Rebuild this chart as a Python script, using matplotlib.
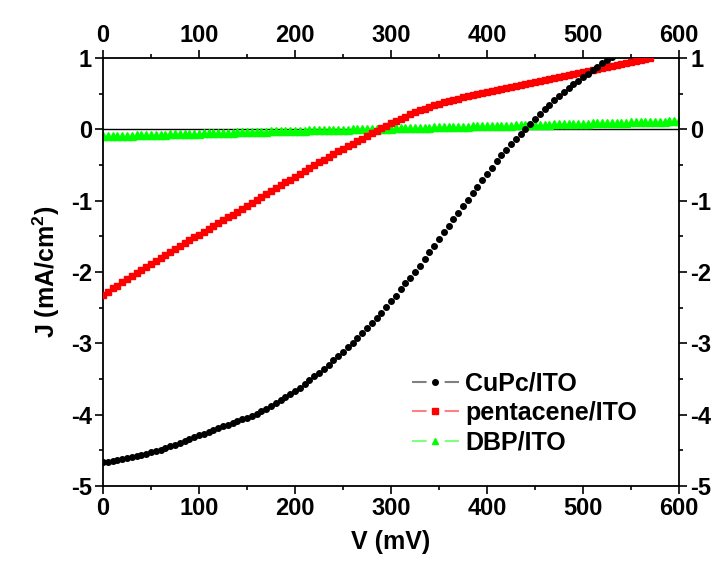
import numpy as np
import matplotlib
matplotlib.use('Agg')
import matplotlib.pyplot as plt
from matplotlib.lines import Line2D
from matplotlib.ticker import MultipleLocator

# font setup (Arial-like, bold everywhere)
plt.rcParams['font.family'] = ['Liberation Sans', 'DejaVu Sans']
plt.rcParams['font.weight'] = 'bold'
plt.rcParams['mathtext.fontset'] = 'custom'
plt.rcParams['mathtext.rm'] = 'Liberation Sans:bold'
plt.rcParams['mathtext.bf'] = 'Liberation Sans:bold'
plt.rcParams['mathtext.default'] = 'bf'
plt.rcParams['lines.scale_dashes'] = False
plt.rcParams['axes.unicode_minus'] = False

# data: J (mA/cm2) sampled every 5 mV starting at 0 mV
v_step = 5
j_cupc = [-4.67, -4.66, -4.645, -4.635, -4.62, -4.605, -4.59, -4.58, -4.565, -4.545,
          -4.53, -4.51, -4.49, -4.47, -4.445, -4.42, -4.395, -4.37, -4.345, -4.32,
          -4.29, -4.265, -4.24, -4.215, -4.19, -4.165, -4.14, -4.115, -4.09, -4.065,
          -4.04, -4.015, -3.985, -3.95, -3.915, -3.875, -3.835, -3.795, -3.755, -3.71,
          -3.665, -3.62, -3.57, -3.52, -3.465, -3.41, -3.355, -3.30, -3.24, -3.18,
          -3.12, -3.055, -2.99, -2.925, -2.86, -2.79, -2.72, -2.65, -2.57, -2.49,
          -2.41, -2.33, -2.245, -2.16, -2.08, -2.00, -1.91, -1.82, -1.725, -1.63,
          -1.535, -1.44, -1.35, -1.26, -1.17, -1.08, -0.985, -0.895, -0.805, -0.715,
          -0.625, -0.535, -0.445, -0.36, -0.285, -0.21, -0.14, -0.07, 0.0, 0.07,
          0.14, 0.21, 0.28, 0.345, 0.405, 0.465, 0.52, 0.575, 0.63, 0.68,
          0.73, 0.78, 0.83, 0.88, 0.93, 0.975, 1.02]
j_pent = [-2.32, -2.275, -2.23, -2.19, -2.145, -2.10, -2.06, -2.015, -1.97, -1.93,
          -1.885, -1.84, -1.80, -1.76, -1.72, -1.68, -1.64, -1.595, -1.555, -1.515,
          -1.475, -1.435, -1.395, -1.355, -1.315, -1.275, -1.235, -1.195, -1.155, -1.11,
          -1.07, -1.03, -0.99, -0.95, -0.91, -0.865, -0.825, -0.785, -0.745, -0.705,
          -0.665, -0.625, -0.58, -0.54, -0.50, -0.46, -0.425, -0.385, -0.35, -0.31,
          -0.275, -0.235, -0.20, -0.165, -0.13, -0.09, -0.055, -0.02, 0.015, 0.05,
          0.083, 0.116, 0.148, 0.18, 0.21, 0.238, 0.265, 0.29, 0.315, 0.338,
          0.36, 0.38, 0.398, 0.415, 0.432, 0.448, 0.463, 0.477, 0.49, 0.503,
          0.517, 0.531, 0.545, 0.56, 0.574, 0.588, 0.602, 0.616, 0.63, 0.644,
          0.658, 0.672, 0.686, 0.70, 0.716, 0.732, 0.748, 0.764, 0.78, 0.795,
          0.81, 0.824, 0.838, 0.852, 0.866, 0.88, 0.894, 0.908, 0.922, 0.936,
          0.95, 0.964, 0.978, 0.992, 1.005]
j_dbp = [-0.100, -0.098, -0.096, -0.094, -0.092, -0.090, -0.088, -0.086, -0.084, -0.082,
         -0.080, -0.078, -0.076, -0.074, -0.072, -0.070, -0.068, -0.066, -0.064, -0.062,
         -0.060, -0.058, -0.056, -0.054, -0.052, -0.050, -0.048, -0.046, -0.044, -0.042,
         -0.040, -0.038, -0.036, -0.034, -0.032, -0.030, -0.028, -0.026, -0.024, -0.022,
         -0.020, -0.018, -0.017, -0.015, -0.014, -0.012, -0.011, -0.009, -0.008, -0.006,
         -0.005, -0.003, -0.002, 0.000, 0.001, 0.003, 0.004, 0.006, 0.007, 0.009,
         0.010, 0.012, 0.014, 0.015, 0.017, 0.019, 0.021, 0.022, 0.024, 0.026,
         0.028, 0.029, 0.031, 0.033, 0.035, 0.036, 0.038, 0.040, 0.042, 0.043,
         0.045, 0.047, 0.049, 0.050, 0.052, 0.054, 0.056, 0.057, 0.059, 0.061,
         0.063, 0.064, 0.066, 0.068, 0.070, 0.071, 0.073, 0.075, 0.077, 0.078,
         0.080, 0.082, 0.084, 0.085, 0.087, 0.089, 0.091, 0.092, 0.094, 0.096,
         0.098, 0.099, 0.101, 0.103, 0.105, 0.106, 0.108, 0.110, 0.112, 0.113,
         0.115]
labels = ['CuPc/ITO', 'pentacene/ITO', 'DBP/ITO']

v_cupc = np.arange(len(j_cupc)) * v_step
v_pent = np.arange(len(j_pent)) * v_step
v_dbp = np.arange(len(j_dbp)) * v_step

fig = plt.figure(figsize=(7.22, 5.70), dpi=100)
ax = fig.add_axes([0.1427, 0.1474, 0.7977, 0.7508])

ax.axhline(0, color='black', lw=1.0, zorder=1)
ax.plot(v_dbp, j_dbp, ls='none', marker='^', ms=6, color='#00ff00', mec='#00ff00', zorder=2)
ax.plot(v_pent, j_pent, ls='none', marker='s', ms=4.6, color='#ff0000', mec='#ff0000', zorder=3)
ax.plot(v_cupc, j_cupc, ls='none', marker='o', ms=4, color='black', mec='black', zorder=4)

ax.set_xlim(0, 600)
ax.set_ylim(-5, 1)
ax.xaxis.set_major_locator(MultipleLocator(100))
ax.xaxis.set_minor_locator(MultipleLocator(50))
ax.yaxis.set_major_locator(MultipleLocator(1))
ax.yaxis.set_minor_locator(MultipleLocator(0.5))
ax.tick_params(which='both', direction='out', top=True, right=True,
               labeltop=True, labelright=True, width=1.2, labelsize=17)
ax.tick_params(which='major', length=6, pad=2)
ax.tick_params(which='minor', length=3.2)
for s in ax.spines.values():
    s.set_linewidth(1.3)

ax.set_xlabel('V (mV)', fontsize=18, fontweight='bold', labelpad=7)
ax.set_ylabel('J (mA/cm$^{2}$)', fontsize=18, fontweight='bold', labelpad=6)

# legend: light line broken around the marker
handles = [
    Line2D([], [], color='#808080', lw=1.5, ls=(0, (10.5, 13)), marker='o', ms=4,
           mfc='black', mec='black'),
    Line2D([], [], color='#ff8080', lw=1.5, ls=(0, (10.5, 13)), marker='s', ms=4.5,
           mfc='#ff0000', mec='#ff0000'),
    Line2D([], [], color='#80ff80', lw=1.5, ls=(0, (10.5, 13)), marker='^', ms=5,
           mfc='#00ff00', mec='#00ff00'),
]
ax.legend(handles, labels, loc='upper left', bbox_to_anchor=(0.536, 0.268),
          frameon=False, fontsize=18, handlelength=1.9, handletextpad=0.25,
          labelspacing=0.22, borderaxespad=0, borderpad=0)

fig.savefig('out.png', dpi=100)
